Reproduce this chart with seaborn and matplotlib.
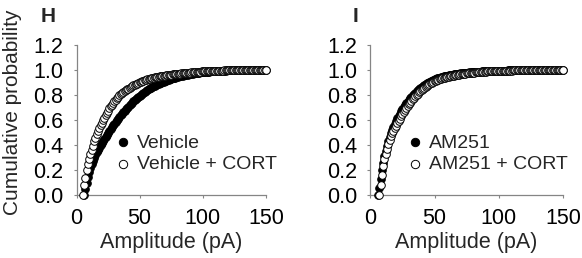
import matplotlib
matplotlib.use("Agg")
import matplotlib.pyplot as plt
import seaborn as sns
import pandas as pd

sns.set_style("ticks")
plt.rcParams['font.family'] = ['Liberation Sans', 'DejaVu Sans']

# ---------------- data ----------------
# amplitude bins (pA), 1 pA wide
amp_vehicle = list(range(6, 151))
amp_vehicle_cort = list(range(5, 151))
amp_am251 = list(range(6, 151))
amp_am251_cort = list(range(7, 151))

vehicle = [
    0.0, 0.05, 0.10, 0.145, 0.185, 0.22, 0.25, 0.275, 0.30, 0.322,
    0.343, 0.362, 0.38, 0.398, 0.415, 0.432, 0.449, 0.466, 0.482, 0.498,
    0.513, 0.528, 0.543, 0.557, 0.571, 0.585, 0.598, 0.611, 0.624, 0.637,
    0.649, 0.661, 0.673, 0.685, 0.696, 0.707, 0.718, 0.729, 0.739, 0.749,
    0.759, 0.769, 0.778, 0.787, 0.796, 0.804, 0.812, 0.82, 0.827, 0.834,
    0.841, 0.847, 0.853, 0.859, 0.865, 0.871, 0.876, 0.881, 0.886, 0.891,
    0.895, 0.90, 0.904, 0.908, 0.912, 0.916, 0.92, 0.924, 0.927, 0.931,
    0.934, 0.937, 0.94, 0.943, 0.946, 0.949, 0.951, 0.954, 0.956, 0.958,
    0.96, 0.962, 0.964, 0.966, 0.968, 0.97, 0.972, 0.974, 0.975, 0.977,
    0.978, 0.98, 0.981, 0.982, 0.983, 0.984, 0.985, 0.986, 0.987, 0.988,
    0.989, 0.99, 0.99, 0.991, 0.992, 0.993, 0.993, 0.994, 0.994, 0.995,
    0.995, 0.996, 0.996, 0.997, 0.997, 0.997, 0.997, 0.998, 0.998, 0.998,
    0.998, 0.999, 0.999, 0.999, 0.999, 0.999, 0.999, 0.999, 0.999, 1.0,
    1.0, 1.0, 1.0, 1.0, 1.0, 1.0, 1.0, 1.0, 1.0, 1.0,
    1.0, 1.0, 1.0, 1.0, 1.0,
]

vehicle_cort = [
    0.0, 0.08, 0.14, 0.20, 0.25, 0.29, 0.325, 0.36, 0.395, 0.43,
    0.46, 0.487, 0.512, 0.535, 0.558, 0.58, 0.60, 0.62, 0.639, 0.657,
    0.675, 0.693, 0.709, 0.724, 0.738, 0.751, 0.763, 0.775, 0.786, 0.797,
    0.806, 0.815, 0.823, 0.831, 0.838, 0.845, 0.852, 0.859, 0.865, 0.871,
    0.877, 0.882, 0.887, 0.892, 0.897, 0.902, 0.906, 0.910, 0.914, 0.918,
    0.922, 0.925, 0.929, 0.932, 0.935, 0.937, 0.94, 0.942, 0.944, 0.946,
    0.948, 0.95, 0.952, 0.953, 0.955, 0.956, 0.958, 0.959, 0.961, 0.962,
    0.964, 0.965, 0.967, 0.968, 0.969, 0.97, 0.971, 0.972, 0.973, 0.974,
    0.975, 0.976, 0.977, 0.978, 0.979, 0.98, 0.981, 0.982, 0.983, 0.984,
    0.985, 0.986, 0.987, 0.988, 0.989, 0.99, 0.99, 0.991, 0.991, 0.992,
    0.992, 0.993, 0.993, 0.994, 0.994, 0.995, 0.995, 0.995, 0.996, 0.996,
    0.996, 0.996, 0.997, 0.997, 0.997, 0.997, 0.998, 0.998, 0.998, 0.998,
    0.998, 0.998, 0.999, 0.999, 0.999, 0.999, 0.999, 0.999, 0.999, 0.999,
    0.999, 0.999, 0.999, 1.0, 1.0, 1.0, 1.0, 1.0, 1.0, 1.0,
    1.0, 1.0, 1.0, 1.0, 1.0, 1.0,
]

am251 = [
    0.0, 0.06, 0.13, 0.2, 0.26, 0.31, 0.355, 0.395, 0.43, 0.465,
    0.495, 0.522, 0.547, 0.57, 0.592, 0.613, 0.633, 0.652, 0.67, 0.687,
    0.703, 0.718, 0.733, 0.747, 0.761, 0.774, 0.786, 0.798, 0.809, 0.82,
    0.83, 0.84, 0.849, 0.858, 0.866, 0.874, 0.881, 0.888, 0.894, 0.9,
    0.906, 0.911, 0.916, 0.921, 0.925, 0.929, 0.933, 0.937, 0.94, 0.943,
    0.946, 0.949, 0.951, 0.954, 0.956, 0.958, 0.96, 0.962, 0.964, 0.966,
    0.967, 0.969, 0.97, 0.972, 0.973, 0.975, 0.976, 0.977, 0.978, 0.979,
    0.98, 0.981, 0.982, 0.983, 0.984, 0.985, 0.986, 0.986, 0.987, 0.988,
    0.988, 0.989, 0.989, 0.99, 0.99, 0.991, 0.991, 0.992, 0.992, 0.993,
    0.993, 0.994, 0.994, 0.995, 0.995, 0.995, 0.995, 0.996, 0.996, 0.996,
    0.996, 0.997, 0.997, 0.997, 0.997, 0.998, 0.998, 0.998, 0.998, 0.998,
    0.998, 0.999, 0.999, 0.999, 0.999, 0.999, 0.999, 0.999, 0.999, 0.999,
    1.0, 1.0, 1.0, 1.0, 1.0, 1.0, 1.0, 1.0, 1.0, 1.0,
    1.0, 1.0, 1.0, 1.0, 1.0, 1.0, 1.0, 1.0, 1.0, 1.0,
    1.0, 1.0, 1.0, 1.0, 1.0,
]

am251_cort = [
    0.0, 0.08, 0.16, 0.23, 0.285, 0.33, 0.37, 0.405, 0.44, 0.47,
    0.495, 0.515, 0.535, 0.555, 0.575, 0.594, 0.612, 0.63, 0.647, 0.664,
    0.68, 0.696, 0.711, 0.726, 0.74, 0.753, 0.766, 0.778, 0.79, 0.801,
    0.812, 0.822, 0.832, 0.841, 0.85, 0.858, 0.866, 0.873, 0.88, 0.887,
    0.893, 0.899, 0.904, 0.909, 0.914, 0.918, 0.922, 0.926, 0.93, 0.933,
    0.936, 0.939, 0.942, 0.944, 0.947, 0.949, 0.951, 0.953, 0.955, 0.957,
    0.959, 0.961, 0.963, 0.965, 0.967, 0.968, 0.97, 0.971, 0.973, 0.974,
    0.976, 0.977, 0.978, 0.979, 0.98, 0.981, 0.982, 0.983, 0.984, 0.985,
    0.986, 0.987, 0.988, 0.988, 0.989, 0.989, 0.99, 0.99, 0.991, 0.991,
    0.992, 0.992, 0.993, 0.993, 0.994, 0.994, 0.995, 0.995, 0.995, 0.995,
    0.996, 0.996, 0.996, 0.996, 0.997, 0.997, 0.997, 0.997, 0.998, 0.998,
    0.998, 0.998, 0.998, 0.998, 0.999, 0.999, 0.999, 0.999, 0.999, 0.999,
    0.999, 0.999, 0.999, 1.0, 1.0, 1.0, 1.0, 1.0, 1.0, 1.0,
    1.0, 1.0, 1.0, 1.0, 1.0, 1.0, 1.0, 1.0, 1.0, 1.0,
    1.0, 1.0, 1.0, 1.0,
]

panel_labels = ["H", "I"]
series_labels = [["Vehicle", "Vehicle + CORT"], ["AM251", "AM251 + CORT"]]
x_ticks = [0, 50, 100, 150]
y_ticks = [0.0, 0.2, 0.4, 0.6, 0.8, 1.0, 1.2]
y_tick_labels = ["0.0", "0.2", "0.4", "0.6", "0.8", "1.0", "1.2"]

# ---------------- figure ----------------
W, H = 582, 258
fig = plt.figure(figsize=(W / 100, H / 100), dpi=100)

axis_gray = "#858585"
FS = 15.5

def px(x0, x1, y0, y1):
    return [x0 / W, 1 - y1 / H, (x1 - x0) / W, (y1 - y0) / H]

axH = fig.add_axes(px(76.5, 266, 45, 195))
axI = fig.add_axes(px(370.3, 563, 45, 195))

panels = [
    (axH, amp_vehicle, vehicle, amp_vehicle_cort, vehicle_cort, series_labels[0], (115, 153.5), (48, 16), panel_labels[0]),
    (axI, amp_am251, am251, amp_am251_cort, am251_cort, series_labels[1], (407, 153.5), (355, 16), panel_labels[1]),
]

for ax, xa, ya, xb, yb, labs, legpos, lblpos, plabel in panels:
    da = pd.DataFrame({"Amplitude": xa, "P": ya})
    db = pd.DataFrame({"Amplitude": xb, "P": yb})
    sns.scatterplot(data=da, x="Amplitude", y="P", ax=ax, color="black", edgecolor="black",
                    s=30, linewidth=0.7, label=labs[0], clip_on=False, zorder=3)
    sns.scatterplot(data=db, x="Amplitude", y="P", ax=ax, color="white", edgecolor="black",
                    s=30, linewidth=0.7, label=labs[1], clip_on=False, zorder=4)
    ax.set_xlim(0, 150)
    ax.set_ylim(0, 1.2)
    ax.set_xticks(x_ticks)
    ax.set_xticklabels([str(t) for t in x_ticks])
    ax.set_yticks(y_ticks)
    ax.set_yticklabels(y_tick_labels)
    ax.tick_params(axis="both", direction="out", length=2.5, width=0.8, color=axis_gray,
                   labelsize=FS, pad=7, labelcolor="black")
    for s in ["top", "right"]:
        ax.spines[s].set_visible(False)
    for s in ["left", "bottom"]:
        ax.spines[s].set_color(axis_gray)
        ax.spines[s].set_linewidth(0.9)
    ax.set_xlabel("Amplitude (pA)", fontsize=FS, labelpad=2)
    ax.set_ylabel("Cumulative probability" if ax is axH else "", fontsize=15)
    ax.legend(loc="center left", bbox_to_anchor=(legpos[0] / W, 1 - legpos[1] / H),
              bbox_transform=fig.transFigure, frameon=False, fontsize=14,
              handlelength=0.8, handletextpad=0.35, borderpad=0, borderaxespad=0,
              labelspacing=0.2, markerscale=1.1)
    fig.text(lblpos[0] / W, 1 - lblpos[1] / H, plabel, fontsize=15, fontweight="bold",
             ha="center", va="center")

axH.yaxis.set_label_coords(13 / W, 1 - 112 / H, transform=fig.transFigure)
axH.yaxis.label.set_va("center")

fig.savefig("out.png", dpi=100)
